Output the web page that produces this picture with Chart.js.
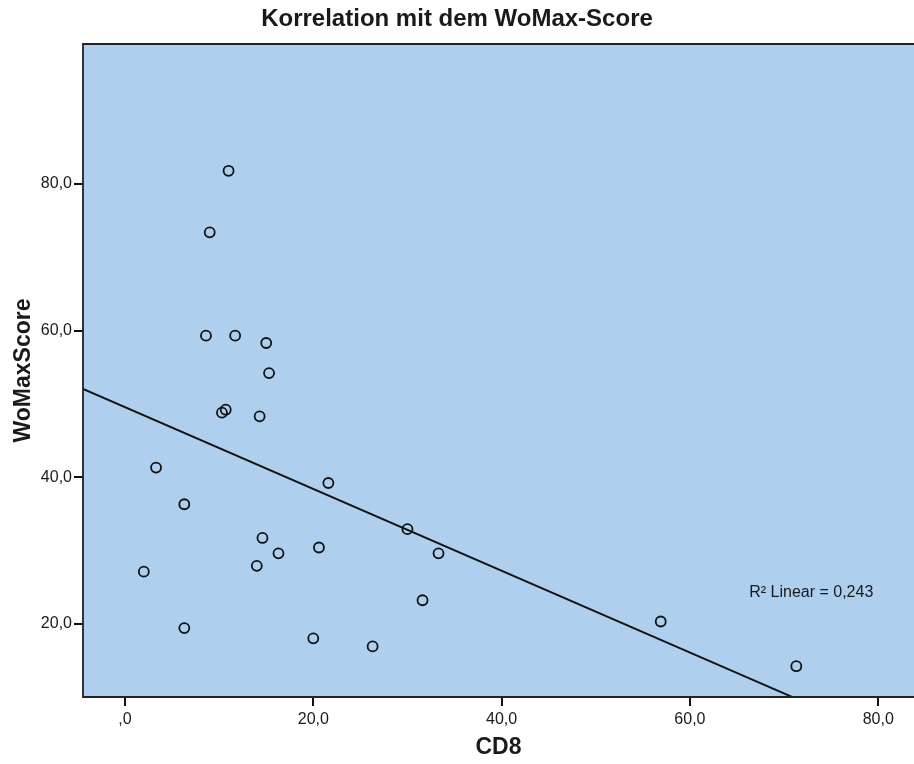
<!DOCTYPE html>
<html>
<head>
<meta charset="utf-8">
<script src="https://cdn.jsdelivr.net/npm/chart.js@4/dist/chart.umd.min.js"></script>
<style>
  html, body { margin: 0; padding: 0; background: #ffffff; }
  #wrap { width: 914px; height: 764px; }
</style>
</head>
<body>
<div id="wrap"><canvas id="c" width="914" height="764"></canvas></div>
<script>
// CD8 values and matching WoMax scores, one entry per case
const cd8 = [11.0, 9.0, 8.6, 11.7, 15.0, 15.3, 10.7, 10.3, 14.3, 3.3, 6.3, 21.6, 30.0,
             33.3, 14.6, 16.3, 20.6, 14.0, 2.0, 31.6, 6.3, 20.0, 26.3, 56.9, 71.3];
const womax = [81.8, 73.4, 59.3, 59.3, 58.3, 54.2, 49.2, 48.8, 48.3, 41.3, 36.3, 39.2, 32.9,
               29.6, 31.7, 29.6, 30.4, 27.9, 27.1, 23.2, 19.4, 18.0, 16.9, 20.3, 14.2];

// Axis tick values
const xTicks = [0, 20, 40, 60, 80];
const yTicks = [20, 40, 60, 80];

// Axis ranges
const xMin = -4.46, xMax = 83.8;
const yMin = 10.0, yMax = 99.1;

// Least-squares fit of WoMax on CD8
const n = cd8.length;
const mx = cd8.reduce((a, b) => a + b, 0) / n;
const my = womax.reduce((a, b) => a + b, 0) / n;
let sxy = 0, sxx = 0, syy = 0;
for (let i = 0; i < n; i++) {
  const dx = cd8[i] - mx, dy = womax[i] - my;
  sxy += dx * dy; sxx += dx * dx; syy += dy * dy;
}
const slope = sxy / sxx;
const intercept = my - slope * mx;
const r2 = (sxy * sxy) / (sxx * syy);

const fmt = v => (v === 0 ? ',0' : v.toFixed(1).replace('.', ','));
const FONT = "'Liberation Sans', Arial, sans-serif";
const INK = '#1a1a1a';

const points = cd8.map((x, i) => ({ x: x, y: womax[i] }));
const fitLine = [
  { x: xMin, y: intercept + slope * xMin },
  { x: xMax, y: intercept + slope * xMax }
];

const plotFrame = {
  id: 'plotFrame',
  beforeDraw(chart) {
    const { ctx, chartArea: a } = chart;
    ctx.save();
    ctx.fillStyle = 'rgb(174,207,237)';
    ctx.fillRect(a.left, a.top, a.right - a.left, a.bottom - a.top);
    ctx.restore();
  },
  afterDraw(chart) {
    const { ctx, chartArea: a, scales } = chart;
    ctx.save();
    ctx.strokeStyle = '#222';
    ctx.lineWidth = 1.8;
    ctx.beginPath();
    ctx.moveTo(a.right + 2, a.top);
    ctx.lineTo(a.left, a.top);
    ctx.lineTo(a.left, a.bottom);
    ctx.lineTo(a.right + 2, a.bottom);
    ctx.stroke();

    // R² annotation
    const tx = scales.x.getPixelForValue(66.3);
    const ty = scales.y.getPixelForValue(24.2);
    ctx.fillStyle = INK;
    ctx.font = '16px ' + FONT;
    ctx.textBaseline = 'middle';
    ctx.textAlign = 'left';
    ctx.fillText('R² Linear = ' + r2.toFixed(3).replace('.', ','), tx, ty);
    ctx.restore();
  }
};

new Chart(document.getElementById('c'), {
  data: {
    datasets: [
      {
        type: 'scatter',
        data: points,
        pointStyle: 'circle',
        pointRadius: 5,
        pointHoverRadius: 5,
        pointBorderWidth: 1.8,
        borderColor: '#111',
        backgroundColor: 'rgba(0,0,0,0)'
      },
      {
        type: 'line',
        data: fitLine,
        borderColor: '#111',
        borderWidth: 1.9,
        pointRadius: 0,
        fill: false,
        tension: 0
      }
    ]
  },
  options: {
    responsive: false,
    animation: false,
    devicePixelRatio: 1,
    layout: { autoPadding: false, padding: 0 },
    plugins: {
      legend: { display: false },
      tooltip: { enabled: false },
      title: {
        display: true,
        text: 'Korrelation mit dem WoMax-Score',
        color: INK,
        font: { family: FONT, size: 24, weight: 'bold', lineHeight: 1.2 },
        padding: { top: 5, bottom: 10.2 }
      }
    },
    scales: {
      x: {
        type: 'linear',
        position: 'bottom',
        min: xMin,
        max: xMax,
        afterBuildTicks: s => { s.ticks = xTicks.map(v => ({ value: v })); },
        afterFit: s => { s.height = 67; s.paddingLeft = 0; s.paddingRight = 0; },
        border: { display: false },
        grid: { drawOnChartArea: false, drawTicks: true, tickLength: 9, color: '#111', lineWidth: 2 },
        ticks: {
          color: INK,
          font: { family: FONT, size: 16 },
          padding: 4,
          maxRotation: 0,
          callback: v => fmt(v)
        },
        title: {
          display: true,
          text: 'CD8',
          color: INK,
          font: { family: FONT, size: 23, weight: 'bold', lineHeight: 1.2 },
          padding: { top: 0, bottom: 3 }
        }
      },
      y: {
        type: 'linear',
        position: 'left',
        min: yMin,
        max: yMax,
        afterBuildTicks: s => { s.ticks = yTicks.map(v => ({ value: v })); },
        afterFit: s => { s.width = 83; s.paddingTop = 0; s.paddingBottom = 0; },
        border: { display: false },
        grid: { drawOnChartArea: false, drawTicks: true, tickLength: 9, color: '#111', lineWidth: 2 },
        ticks: {
          color: INK,
          font: { family: FONT, size: 16 },
          padding: 2,
          callback: v => fmt(v)
        },
        title: {
          display: true,
          text: 'WoMaxScore',
          color: INK,
          font: { family: FONT, size: 23, weight: 'bold', lineHeight: 1.2 },
          padding: { top: 10, bottom: 0 }
        }
      }
    }
  },
  plugins: [plotFrame]
});
</script>
</body>
</html>
